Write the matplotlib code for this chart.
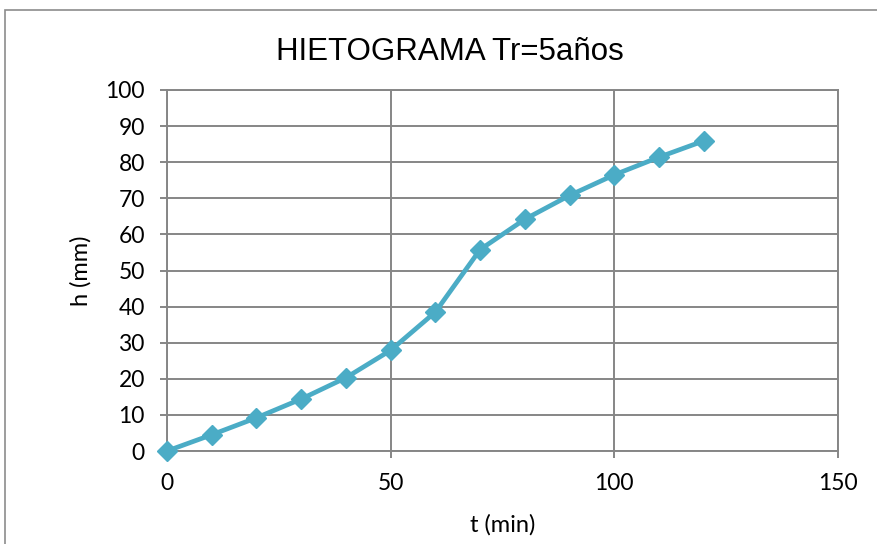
import matplotlib.pyplot as plt
from matplotlib.patches import Rectangle

t_min = [0, 10, 20, 30, 40, 50, 60, 70, 80, 90, 100, 110, 120]
h_mm = [0, 4.5, 9.2, 14.4, 20.3, 27.9, 38.5, 55.8, 64.2, 70.8, 76.5, 81.4, 85.9]

x_ticks = [0, 50, 100, 150]
y_ticks = [0, 10, 20, 30, 40, 50, 60, 70, 80, 90, 100]

grid_color = '#868686'
line_color = '#4BACC6'
lab_font = ['Lato', 'DejaVu Sans']

fig = plt.figure(figsize=(8.78, 5.44), dpi=100)
ax = fig.add_axes([167 / 878, 1 - 451 / 544, (838 - 167) / 878, (451 - 90) / 544])

# chart area border (Excel style), runs off the right/bottom edges
fig.patches.append(Rectangle((5 / 878, -0.1), 1.0, 1 - 10 / 544 + 0.1,
                             transform=fig.transFigure, fill=False,
                             edgecolor='#8c8c8c', linewidth=1.2))

ax.plot(t_min, h_mm, color=line_color, linewidth=3.4, marker='D',
        markersize=10, markerfacecolor=line_color, markeredgecolor=line_color,
        zorder=3, clip_on=False)

ax.set_xlim(0, 150)
ax.set_ylim(0, 100)
ax.set_xticks(x_ticks)
ax.set_yticks(y_ticks)
ax.grid(True, color=grid_color, linewidth=1.4)
ax.set_axisbelow(True)
for s in ax.spines.values():
    s.set_color(grid_color)
    s.set_linewidth(1.4)

ax.tick_params(axis='both', colors=grid_color, length=5, width=1.4,
               labelcolor='black', labelsize=16.5)
ax.tick_params(axis='x', pad=11)
ax.tick_params(axis='y', pad=11)
for lbl in ax.get_xticklabels() + ax.get_yticklabels():
    lbl.set_family(lab_font)

ax.set_xlabel('t (min)', fontsize=17, family=lab_font, labelpad=14)
ax.set_ylabel('h (mm)', fontsize=17, family=lab_font, labelpad=10)

fig.text(450 / 878, 1 - 52 / 544, 'HIETOGRAMA Tr=5años', ha='center', va='center',
         fontsize=22.5, family=['Liberation Sans Narrow', 'Liberation Sans', 'DejaVu Sans'])

fig.savefig('out.png', dpi=100)
